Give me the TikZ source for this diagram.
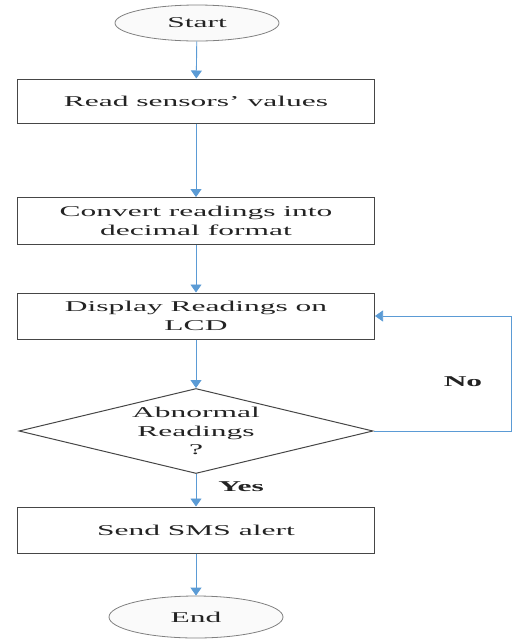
\documentclass[tikz,border=0pt]{standalone}
\usepackage{fontspec}
\setmainfont{Liberation Serif}[FakeStretch=2.1]
\usetikzlibrary{shapes.geometric,arrows.meta}
\definecolor{arrblue}{RGB}{91,155,213}
\definecolor{edgegray}{RGB}{70,70,70}
\definecolor{txtgray}{RGB}{35,35,35}
\tikzset{
  every node/.style={font=\fontsize{15}{18.5}\selectfont, text=txtgray},
  procbox/.style={draw=edgegray, line width=1pt, rectangle, minimum width=357pt, inner sep=0pt, align=center},
  termnode/.style={draw=gray, line width=0.8pt, ellipse, inner sep=0pt, fill=gray!4},
  decnode/.style={draw=edgegray, line width=1pt, diamond, aspect=4.16, inner sep=0pt, minimum width=354pt, minimum height=85pt, align=center},
  arr/.style={draw=arrblue, line width=0.9pt, -{Triangle[width=11pt,length=8pt]}, arrblue},
  lbl/.style={font=\fontsize{15}{18}\selectfont\bfseries}
}
\begin{document}
\begin{tikzpicture}[x=1pt,y=1pt]
\useasboundingbox (0,0) rectangle (512,-641);
\node[termnode, minimum width=164pt, minimum height=36pt] (start) at (197,-23) {Start};
\node[procbox, minimum height=44pt] (b1) at (196,-101) {Read sensors' values};
\node[procbox, minimum height=47pt] (b2) at (196,-221) {Convert readings into\\decimal format};
\node[procbox, minimum height=46pt] (b3) at (196,-316) {Display Readings on\\LCD};
\node[decnode] (dec) at (196,-431) {Abnormal\\Readings\\?};
\node[procbox, minimum height=46pt] (b4) at (196,-530) {Send SMS alert};
\node[termnode, minimum width=174pt, minimum height=42pt] (end) at (196,-617) {End};
\coordinate (loopc) at (511,-431);
\draw[arr] (start) -- (b1);
\draw[arr] (b1) -- (b2);
\draw[arr] (b2) -- (b3);
\draw[arr] (b3) -- (dec);
\draw[arr] (dec) -- (b4);
\draw[arr] (b4) -- (end);
\draw[arr, line width=0.7pt] (dec.east) -- (loopc) |- (b3.east);
\node[lbl] (no) at (463,-382) {No};
\node[lbl] (yes) at (241,-487) {Yes};
\end{tikzpicture}
\end{document}
